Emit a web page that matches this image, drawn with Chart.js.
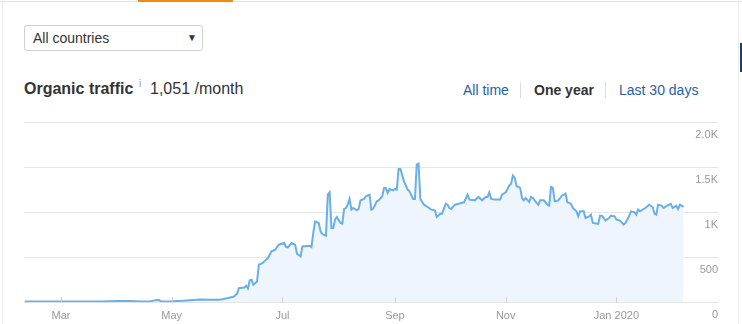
<!DOCTYPE html>
<html>
<head>
<meta charset="utf-8">
<title>Organic traffic</title>
<script src="https://cdn.jsdelivr.net/npm/chart.js@4.4.0/dist/chart.umd.min.js"></script>
<style>
    html, body { margin: 0; padding: 0; background: #fff; }
    body {
        width: 742px; height: 324px; position: relative; overflow: hidden;
        font-family: Arial, "Liberation Sans", sans-serif; color: #333;
    }
    .top-line { position: absolute; left: 0; top: 1px; width: 742px; height: 1px; background: #e3e3e3; }
    .tab-active { position: absolute; left: 138px; top: 0; width: 95px; height: 2px; background: #f7870f; }
    .side-l { position: absolute; left: 2px; top: 2px; width: 1px; height: 322px; background: #ececec; }
    .side-r { position: absolute; left: 738px; top: 2px; width: 1px; height: 322px; background: #ececec; }
    .scroll-mark { position: absolute; left: 740px; top: 43px; width: 2px; height: 29px; background: #1d3f63; }
    .select {
        position: absolute; left: 24px; top: 25px; width: 177px; height: 24px;
        border: 1px solid #cfcfcf; border-radius: 3px; font-size: 14px; line-height: 24px;
    }
    .select span { position: absolute; left: 8px; top: 0; }
    .select .arrow { position: absolute; left: 162px; top: 0; font-size: 10px; }
    .title { position: absolute; left: 24px; top: 79px; font-size: 16px; font-weight: bold; line-height: 20px; }
    .info { position: absolute; left: 139px; top: 78px; font-size: 10px; color: #999; }
    .value { position: absolute; left: 150px; top: 79px; font-size: 16px; line-height: 20px; }
    .range { position: absolute; top: 81px; font-size: 14px; line-height: 18px; color: #1f5ea8; }
    .range.active { color: #333; font-weight: bold; }
    .sep { position: absolute; top: 82px; width: 1px; height: 16px; background: #ddd; }
    #wrap { position: absolute; left: 0; top: 110px; width: 742px; height: 214px; }
</style>
</head>
<body>
<div class="top-line"></div>
<div class="tab-active"></div>
<div class="side-l"></div>
<div class="side-r"></div>
<div class="scroll-mark"></div>

<div class="select"><span>All countries</span><span class="arrow">&#9660;</span></div>

<div class="title">Organic traffic</div>
<div class="info">i</div>
<div class="value">1,051 /month</div>

<div class="range" style="left:463px">All time</div>
<div class="sep" style="left:520px"></div>
<div class="range active" style="left:534px">One year</div>
<div class="sep" style="left:605px"></div>
<div class="range" style="left:619px">Last 30 days</div>

<div id="wrap"><canvas id="trafficChart"></canvas></div>

<script>
// day of year, counted from Jan 1 2019 (day 0)
const days = [
    39, 47, 59, 70, 81, 90, 97, 103, 108, 111, 113, 114, 119, 121, 126, 130, 136, 141, 146, 148,
    151, 154, 156, 157, 160, 161, 162, 163, 164, 165, 167, 168, 170, 171, 173, 175, 177, 179, 182, 183,
    184, 186, 188, 189, 191, 192, 196, 197, 198, 199, 201, 202, 203, 205, 206, 207, 208, 209, 210, 211,
    213, 214, 215, 216, 217, 218, 219, 220, 222, 223, 224, 226, 227, 229, 230, 231, 233, 234, 236, 237,
    238, 239, 240, 242, 243, 244, 245, 246, 248, 250, 251, 253, 254, 255, 256, 257, 259, 261, 263, 265,
    266, 268, 269, 271, 272, 273, 274, 276, 278, 281, 283, 284, 287, 289, 291, 293, 294, 295, 296, 298,
    301, 302, 304, 305, 306, 307, 308, 309, 310, 312, 313, 314, 315, 317, 318, 319, 321, 322, 323, 325,
    327, 328, 329, 330, 331, 333, 334, 335, 337, 338, 340, 341, 343, 344, 345, 347, 348, 350, 351, 352,
    355, 356, 357, 359, 361, 362, 364, 365, 367, 369, 370, 372, 373, 375, 376, 377, 378, 380, 381, 383,
    385, 386, 387, 388, 390, 391, 393, 395, 396, 398, 399, 400, 401, 402
];

const traffic = [
    8, 8, 8, 8, 10, 14, 15, 10, 8, 24, 26, 10, 8, 13, 18, 24, 31, 28, 28, 35,
    47, 61, 94, 157, 165, 183, 153, 245, 250, 194, 231, 417, 435, 454, 491, 565, 583, 639, 657, 613,
    609, 657, 639, 539, 509, 620, 628, 613, 769, 898, 880, 787, 757, 739, 1194, 1220, 824, 824, 917, 946,
    880, 872, 1035, 1046, 1083, 1146, 1028, 1046, 1020, 1035, 1131, 1146, 1176, 1194, 1028, 1039, 1120, 1131, 1176, 1269,
    1269, 1213, 1257, 1242, 1257, 1250, 1480, 1480, 1342, 1250, 1231, 1146, 1146, 1528, 1539, 1146, 1083, 1057, 1028, 1020,
    946, 983, 983, 1094, 1083, 1046, 1035, 1083, 1094, 1109, 1194, 1139, 1131, 1169, 1131, 1169, 1169, 1220, 1146, 1139,
    1139, 1194, 1220, 1257, 1294, 1317, 1406, 1380, 1287, 1269, 1157, 1131, 1157, 1113, 1169, 1157, 1102, 1083, 1131, 1131,
    1083, 1072, 1280, 1269, 1120, 1131, 1157, 1183, 1206, 1109, 1094, 1046, 1009, 954, 1009, 1009, 935, 954, 972, 880,
    869, 961, 961, 909, 935, 961, 954, 917, 906, 861, 880, 954, 1009, 998, 972, 1028, 1009, 1035, 1046, 1083,
    1057, 983, 972, 1083, 1072, 1046, 1072, 1091, 1046, 1072, 1035, 1083, 1072, 1057
];

const xTickDays = [59, 120, 181, 243, 304, 365];
const xTickLabels = ['Mar', 'May', 'Jul', 'Sep', 'Nov', 'Jan 2020'];
const yTickLabels = ['0', '500', '1K', '1.5K', '2.0K'];

const points = days.map((d, i) => ({ x: d, y: traffic[i] }));

const axisFont = { family: 'Arial, "Liberation Sans", sans-serif', size: 11 };

// small tick marks that stand up from the baseline, inside the plot
const innerTicks = {
    id: 'innerTicks',
    afterDatasetsDraw(chart) {
        const { ctx, chartArea, scales } = chart;
        const x = scales.x;
        ctx.save();
        ctx.strokeStyle = '#cfcfcf';
        ctx.lineWidth = 1;
        x.ticks.forEach(t => {
            const px = Math.round(x.getPixelForValue(t.value)) + 0.5;
            ctx.beginPath();
            ctx.moveTo(px, chartArea.bottom);
            ctx.lineTo(px, chartArea.bottom - 5);
            ctx.stroke();
        });
        ctx.restore();
    }
};

new Chart(document.getElementById('trafficChart'), {
    type: 'line',
    data: {
        datasets: [{
            label: 'Organic traffic',
            data: points,
            borderColor: '#6aafe6',
            backgroundColor: '#eef5fd',
            borderWidth: 2,
            pointRadius: 0,
            tension: 0,
            fill: 'origin'
        }]
    },
    options: {
        responsive: true,
        maintainAspectRatio: false,
        animation: false,
        layout: { padding: { left: 24, right: 24, top: 12, bottom: 1 } },
        plugins: { legend: { display: false }, tooltip: { enabled: false } },
        scales: {
            x: {
                type: 'linear',
                min: 38.6,
                max: 421,
                afterBuildTicks: function(scale) {
                    scale.ticks = xTickDays.map(v => ({ value: v }));
                },
                ticks: {
                    autoSkip: false,
                    maxRotation: 0,
                    padding: 0.5,
                    color: '#999',
                    font: axisFont,
                    callback: function(value) {
                        return xTickLabels[xTickDays.indexOf(value)];
                    }
                },
                grid: {
                    display: true,
                    drawOnChartArea: false,
                    drawTicks: true,
                    tickLength: 6.5,
                    tickColor: 'rgba(0,0,0,0)'
                },
                border: { display: false }
            },
            y: {
                position: 'right',
                min: 0,
                max: 2000,
                ticks: {
                    stepSize: 500,
                    mirror: true,
                    padding: 0,
                    labelOffset: 13,
                    color: '#999',
                    font: axisFont,
                    callback: function(value, index) {
                        return yTickLabels[index];
                    }
                },
                grid: { color: '#e6e6e6', drawTicks: false },
                border: { display: false }
            }
        }
    },
    plugins: [innerTicks]
});
</script>
</body>
</html>
